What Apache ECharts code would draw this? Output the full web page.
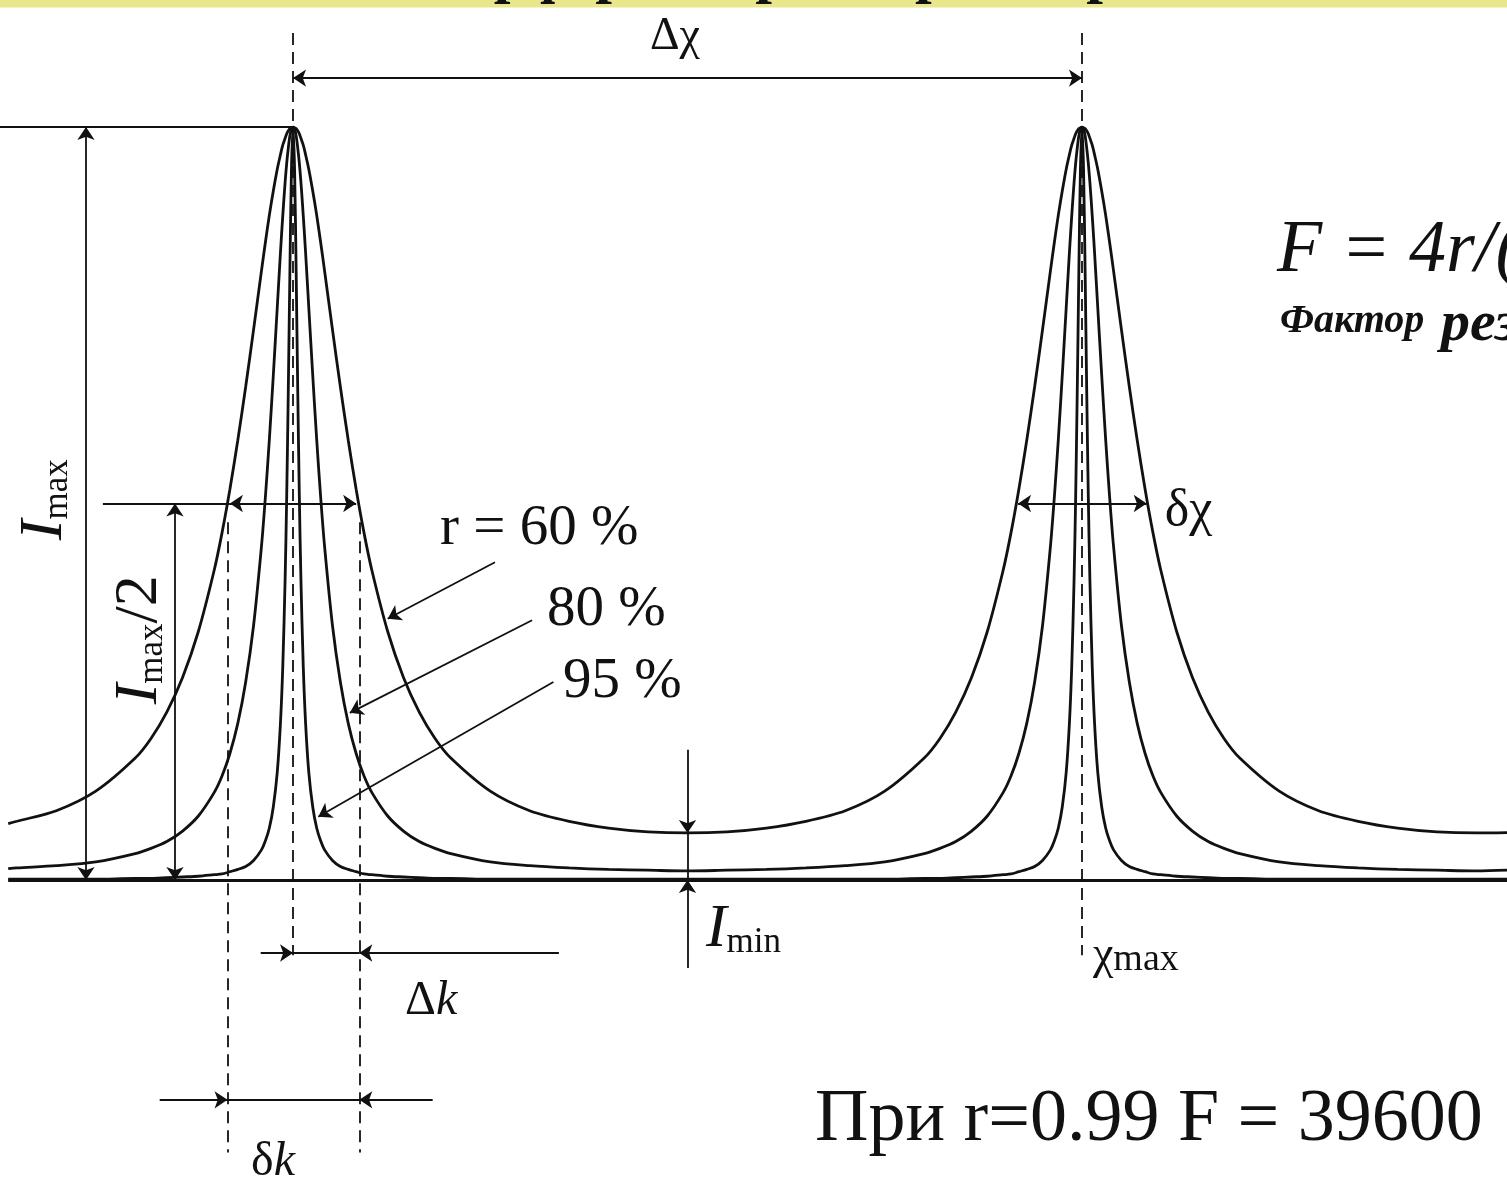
<!DOCTYPE html>
<html>
<head>
<meta charset="utf-8">
<script src="https://cdn.jsdelivr.net/npm/echarts@6/dist/echarts.min.js"></script>
<style>
  html, body { margin: 0; padding: 0; background: #fff; }
  #chart { width: 1507px; height: 1186px; }
</style>
</head>
<body>
<div id="chart"></div>
<script>
// phase in units of the free spectral range (peak 1 at 0, peak 2 at 1), intensity in units of Imax
const phase = [
  -0.361, -0.35, -0.3, -0.25, -0.2, -0.18, -0.16, -0.14, -0.12, -0.1, -0.09, -0.08, -0.07, -0.06,
  -0.05, -0.04, -0.035, -0.03, -0.025, -0.02, -0.016, -0.013, -0.01, -0.008, -0.006, -0.004, -0.002, 0,
  0.002, 0.004, 0.006, 0.008, 0.01, 0.013, 0.016, 0.02, 0.025, 0.03, 0.035, 0.04, 0.05, 0.06, 0.07,
  0.08, 0.09, 0.1, 0.12, 0.14, 0.16, 0.18, 0.2, 0.25, 0.3, 0.35, 0.4, 0.45, 0.5,
  0.55, 0.6, 0.65, 0.7, 0.75, 0.8, 0.82, 0.84, 0.86, 0.88, 0.9, 0.91, 0.92, 0.93, 0.94, 0.95, 0.96,
  0.965, 0.97, 0.975, 0.98, 0.984, 0.987, 0.99, 0.992, 0.994, 0.996, 0.998, 1,
  1.002, 1.004, 1.006, 1.008, 1.01, 1.013, 1.016, 1.02, 1.025, 1.03, 1.035, 1.04, 1.05, 1.06, 1.07,
  1.08, 1.09, 1.1, 1.12, 1.14, 1.16, 1.18, 1.2, 1.25, 1.3, 1.35, 1.4, 1.45, 1.5,
  1.539,
];

const r60 = [
  0.075, 0.078, 0.092, 0.118, 0.162, 0.188, 0.223, 0.269, 0.33, 0.411, 0.461, 0.519, 0.584, 0.655,
  0.731, 0.809, 0.847, 0.883, 0.915, 0.944, 0.963, 0.976, 0.985, 0.991, 0.995, 0.998, 0.999, 1,
  0.999, 0.998, 0.995, 0.991, 0.985, 0.976, 0.963, 0.944, 0.915, 0.883, 0.847, 0.809, 0.731, 0.655, 0.584,
  0.519, 0.461, 0.411, 0.33, 0.269, 0.223, 0.188, 0.162, 0.118, 0.092, 0.078, 0.069, 0.064, 0.0625,
  0.064, 0.069, 0.078, 0.092, 0.118, 0.162, 0.188, 0.223, 0.269, 0.33, 0.411, 0.461, 0.519, 0.584, 0.655, 0.731, 0.809,
  0.847, 0.883, 0.915, 0.944, 0.963, 0.976, 0.985, 0.991, 0.995, 0.998, 0.999, 1,
  0.999, 0.998, 0.995, 0.991, 0.985, 0.976, 0.963, 0.944, 0.915, 0.883, 0.847, 0.809, 0.731, 0.655, 0.584,
  0.519, 0.461, 0.411, 0.33, 0.269, 0.223, 0.188, 0.162, 0.118, 0.092, 0.078, 0.069, 0.064, 0.0625,
  0.063,
];

const r80 = [
  0.015, 0.016, 0.019, 0.024, 0.035, 0.042, 0.051, 0.065, 0.085, 0.116, 0.138, 0.168, 0.208, 0.263,
  0.338, 0.443, 0.509, 0.585, 0.67, 0.76, 0.832, 0.882, 0.927, 0.952, 0.972, 0.988, 0.997, 1,
  0.997, 0.988, 0.972, 0.952, 0.927, 0.882, 0.832, 0.76, 0.67, 0.585, 0.509, 0.443, 0.338, 0.263, 0.208,
  0.168, 0.138, 0.116, 0.085, 0.065, 0.051, 0.042, 0.035, 0.024, 0.019, 0.016, 0.014, 0.013, 0.012,
  0.013, 0.014, 0.016, 0.019, 0.024, 0.035, 0.042, 0.051, 0.065, 0.085, 0.116, 0.138, 0.168, 0.208, 0.263, 0.338, 0.443,
  0.509, 0.585, 0.67, 0.76, 0.832, 0.882, 0.927, 0.952, 0.972, 0.988, 0.997, 1,
  0.997, 0.988, 0.972, 0.952, 0.927, 0.882, 0.832, 0.76, 0.67, 0.585, 0.509, 0.443, 0.338, 0.263, 0.208,
  0.168, 0.138, 0.116, 0.085, 0.065, 0.051, 0.042, 0.035, 0.024, 0.019, 0.016, 0.014, 0.013, 0.012,
  0.013,
];

const r95 = [
  0.001, 0.001, 0.001, 0.001, 0.002, 0.002, 0.003, 0.004, 0.005, 0.007, 0.008, 0.011, 0.014, 0.018,
  0.026, 0.04, 0.052, 0.069, 0.097, 0.143, 0.207, 0.283, 0.4, 0.51, 0.649, 0.806, 0.943, 1,
  0.943, 0.806, 0.649, 0.51, 0.4, 0.283, 0.207, 0.143, 0.097, 0.069, 0.052, 0.04, 0.026, 0.018, 0.014,
  0.011, 0.008, 0.007, 0.005, 0.004, 0.003, 0.002, 0.002, 0.001, 0.001, 0.001, 0.001, 0.001, 0.001,
  0.001, 0.001, 0.001, 0.001, 0.001, 0.002, 0.002, 0.003, 0.004, 0.005, 0.007, 0.008, 0.011, 0.014, 0.018, 0.026, 0.04,
  0.052, 0.069, 0.097, 0.143, 0.207, 0.283, 0.4, 0.51, 0.649, 0.806, 0.943, 1,
  0.943, 0.806, 0.649, 0.51, 0.4, 0.283, 0.207, 0.143, 0.097, 0.069, 0.052, 0.04, 0.026, 0.018, 0.014,
  0.011, 0.008, 0.007, 0.005, 0.004, 0.003, 0.002, 0.002, 0.001, 0.001, 0.001, 0.001, 0.001, 0.001,
  0.001,
];

const curveNames = ["r = 60 %", "r = 80 %", "r = 95 %"];

// guide lines, in the same phase / intensity units
const dashedGuides = [
  [[0, 1.125], [0, -0.1]],
  [[1, 1.125], [1, -0.1]],
  [[-0.083, 0.475], [-0.083, -0.362]],
  [[0.084, 0.475], [0.084, -0.362]],
];

const plainGuides = [
  [[-0.3714, 1], [0, 1]],
  [[-0.241, 0.5], [-0.08, 0.5]],
  [[0.5, 0.0625], [0.5, 0]],
  [[0, -0.097], [0.084, -0.097]],
  [[-0.083, -0.292], [0.084, -0.292]],
];

const baseline = [[[-0.361, 0], [1.539, 0]]];

const doubleArrows = [
  [[-0.2624, 0], [-0.2624, 1]],
  [[-0.1496, 0], [-0.1496, 0.5]],
  [[-0.08, 0.5], [0.08, 0.5]],
  [[0, 1.065], [1, 1.065]],
  [[0.919, 0.5], [1.082, 0.5]],
];

const singleArrows = [
  [[0.256, 0.422], [0.12, 0.347]],
  [[0.303, 0.345], [0.072, 0.222]],
  [[0.33, 0.263], [0.032, 0.084]],
  [[0.5, 0.173], [0.5, 0.0625]],
  [[0.5, -0.117], [0.5, 0]],
  [[-0.041, -0.097], [0, -0.097]],
  [[0.337, -0.097], [0.084, -0.097]],
  [[-0.169, -0.292], [-0.083, -0.292]],
  [[0.177, -0.292], [0.084, -0.292]],
];

const ink = "#111";
const serif = '"Liberation Serif", "Times New Roman", serif';

const richStyles = {
  i: { fontSize: 62, fontStyle: "italic", lineHeight: 62, fontFamily: serif, color: ink },
  s: { fontSize: 35, lineHeight: 22, verticalAlign: "bottom", fontFamily: serif, color: ink },
  n: { fontSize: 62, lineHeight: 62, fontFamily: serif, color: ink },
  d: { fontSize: 48, lineHeight: 48, fontFamily: serif, color: ink },
  k: { fontSize: 48, lineHeight: 48, fontStyle: "italic", fontFamily: serif, color: ink },
  c: { fontSize: 46, lineHeight: 46, fontFamily: serif, color: ink },
  m: { fontSize: 38, lineHeight: 38, verticalAlign: "bottom", fontFamily: serif, color: ink },
};

const labels = [
  { at: [0.4842, 1.12], text: "Δχ", size: 46, align: "center" },
  { at: [1.105, 0.49], text: "δχ", size: 52, align: "left" },
  { at: [0.1863, 0.466], text: "r = 60 %", size: 57, align: "left" },
  { at: [0.3219, 0.3586], text: "80 %", size: 57, align: "left" },
  { at: [0.3422, 0.263], text: "95 %", size: 57, align: "left" },
  { at: [-0.315, 0.505], text: "{i|I}{s|max}", align: "center", rotate: 90 },
  { at: [-0.1946, 0.319], text: "{i|I}{s|max}{n|/2}", align: "center", rotate: 90 },
  { at: [0.5234, -0.066], text: "{i|I}{s|min}", align: "left" },
  { at: [1.0139, -0.101], text: "{c|χ}{m|max}", align: "left" },
  { at: [0.142, -0.161], text: "{d|Δ}{k|k}", align: "left" },
  { at: [-0.0532, -0.375], text: "{d|δ}{k|k}", align: "left" },
  { at: [1.2471, 0.834], text: "F = 4r/(1 − r)²", size: 74, italic: true, align: "left" },
  { at: [1.251, 0.741], text: "Фактор", size: 40, italic: true, bold: true, align: "left" },
  { at: [1.455, 0.737], text: "резкости", size: 58, italic: true, bold: true, align: "left" },
  { at: [0.6616, -0.32], text: "При r=0.99 F = 39600", size: 74, align: "left" },
];

function zip(values) {
  return phase.map((x, i) => [x, values[i]]);
}

function linesSeries(name, segments, symbol, style) {
  return {
    name,
    type: "lines",
    coordinateSystem: "cartesian2d",
    silent: true,
    symbol,
    symbolSize: 13,
    lineStyle: Object.assign({ color: ink, width: 1.8, opacity: 1, curveness: 0 }, style || {}),
    data: segments.map((coords) => ({ coords })),
    z: 4,
  };
}

const chart = echarts.init(document.getElementById("chart"), null, { renderer: "canvas" });

chart.setOption({
  backgroundColor: "#fff",
  animation: false,
  grid: { left: 0, right: 0, top: 0, bottom: 0 },
  xAxis: { type: "value", min: -0.3714, max: 1.5387, show: false },
  yAxis: { type: "value", min: -0.4064, max: 1.1687, show: false },
  graphic: [
    { type: "rect", shape: { x: 0, y: 0, width: 1507, height: 7.5 }, style: { fill: "#e8e78c" }, z: 100 },
    {
      type: "text",
      x: 753,
      y: -25,
      z: 101,
      style: {
        text: "Интерферометр Фабри–Перо",
        font: 'bold 60px "Liberation Serif", serif',
        fill: ink,
        align: "center",
        textAlign: "center",
        verticalAlign: "middle",
        textVerticalAlign: "middle",
      },
    },
  ],
  series: [
    ...[r60, r80, r95].map((values, i) => ({
      name: curveNames[i],
      type: "line",
      data: zip(values),
      symbol: "none",
      silent: true,
      smooth: 0.3,
      lineStyle: { color: ink, width: 2.8 },
      z: 3,
    })),
    linesSeries("baseline", baseline, ["none", "none"], { width: 2.8 }),
    linesSeries("dashed", dashedGuides, ["none", "none"], { type: [12, 7], width: 1.8 }),
    linesSeries("plain", plainGuides, ["none", "none"]),
    linesSeries("double arrows", doubleArrows, ["arrow", "arrow"]),
    linesSeries("arrows", singleArrows, ["none", "arrow"]),
    {
      name: "labels",
      type: "scatter",
      silent: true,
      symbolSize: 1,
      itemStyle: { color: "rgba(0,0,0,0)", opacity: 1 },
      z: 5,
      data: labels.map((item) => ({
        value: item.at,
        label: {
          show: true,
          position: "inside",
          formatter: item.text,
          align: item.align,
          verticalAlign: "middle",
          rotate: item.rotate || 0,
          color: ink,
          opacity: 1,
          fontFamily: serif,
          fontSize: item.size || 40,
          fontStyle: item.italic ? "italic" : "normal",
          fontWeight: item.bold ? "bold" : "normal",
          rich: richStyles,
        },
      })),
    },
  ],
});
</script>
</body>
</html>
